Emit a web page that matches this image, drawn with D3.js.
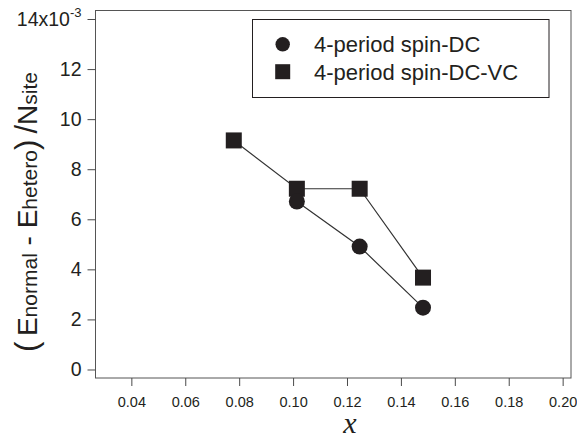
<!DOCTYPE html>
<html>
<head>
<meta charset="utf-8">
<script src="https://cdn.jsdelivr.net/npm/d3@7"></script>
<style>
  html, body { margin: 0; padding: 0; background: #fff; }
  svg { display: block; }
  text { font-family: "Liberation Sans", Arial, sans-serif; fill: #231f20; }
</style>
</head>
<body>
<svg id="chart" width="577" height="438"></svg>
<script>
// Energy difference per site (units of 1e-3) versus doping x
const dcX = [0.1014, 0.1247, 0.1482];
const dcY = [6.71, 4.91, 2.47];
const dcvcX = [0.078, 0.1014, 0.1247, 0.1482];
const dcvcY = [9.15, 7.22, 7.22, 3.67];
const seriesNames = ["4-period spin-DC", "4-period spin-DC-VC"];
const xTicks = [0.04, 0.06, 0.08, 0.10, 0.12, 0.14, 0.16, 0.18, 0.20];
const yTicks = [0, 2, 4, 6, 8, 10, 12, 14];

const svg = d3.select("#chart");
const plotL = 95.5, plotR = 571, plotT = 10, plotB = 378;

const x = d3.scaleLinear().domain([0.0267, 0.2031]).range([plotL, plotR]);
const y = d3.scaleLinear().domain([-0.34, 14.36]).range([plotB, plotT]);

const ink = "#231f20";

// frame
svg.append("rect")
  .attr("x", plotL).attr("y", plotT + 0.5)
  .attr("width", plotR - plotL).attr("height", plotB - plotT - 0.5)
  .attr("fill", "none").attr("stroke", "#555").attr("stroke-width", 1);

// x axis
const xAxis = svg.append("g")
  .attr("transform", `translate(0,${plotB})`)
  .call(d3.axisBottom(x).tickValues(xTicks).tickSize(8).tickPadding(11)
    .tickFormat(d3.format(".2f")));
xAxis.select(".domain").remove();
xAxis.selectAll("line").attr("stroke", "#4a4a4a");
xAxis.selectAll("text").attr("font-size", 14.5).attr("fill", ink)
  .style("font-family", "Liberation Sans, Arial, sans-serif");

// y axis
const yAxis = svg.append("g")
  .attr("transform", `translate(${plotL},0)`)
  .call(d3.axisLeft(y).tickValues(yTicks).tickSize(8).tickPadding(6)
    .tickFormat(d3.format("d")));
yAxis.select(".domain").remove();
yAxis.selectAll("line").attr("stroke", "#4a4a4a");
yAxis.selectAll("text").attr("font-size", 19.5).attr("fill", ink)
  .style("font-family", "Liberation Sans, Arial, sans-serif");
// top tick carries the 10^-3 multiplier
yAxis.selectAll(".tick").filter(d => d === 14).select("text")
  .text(null)
  .call(t => {
    t.append("tspan").text("14x10");
    t.append("tspan").attr("font-size", 13).attr("dy", "-0.65em").text("-3");
  });

// connecting lines
const line = d3.line().x(d => x(d[0])).y(d => y(d[1]));
const dcPts = dcX.map((v, i) => [v, dcY[i]]);
const dcvcPts = dcvcX.map((v, i) => [v, dcvcY[i]]);

svg.append("path").datum(dcvcPts).attr("d", line)
  .attr("fill", "none").attr("stroke", "#333").attr("stroke-width", 1.2);
svg.append("path").datum(dcPts).attr("d", line)
  .attr("fill", "none").attr("stroke", "#333").attr("stroke-width", 1.2);

// markers
const sq = 16;
svg.append("g").selectAll("rect").data(dcvcPts).join("rect")
  .attr("x", d => x(d[0]) - sq / 2).attr("y", d => y(d[1]) - sq / 2)
  .attr("width", sq).attr("height", sq).attr("fill", ink);
svg.append("g").selectAll("circle").data(dcPts).join("circle")
  .attr("cx", d => x(d[0])).attr("cy", d => y(d[1])).attr("r", 8)
  .attr("fill", ink);

// legend
const lg = svg.append("g");
lg.append("rect").attr("x", 252.5).attr("y", 19.5).attr("width", 296.5).attr("height", 78)
  .attr("fill", "#fff").attr("stroke", ink).attr("stroke-width", 1);
lg.append("circle").attr("cx", 282.7).attr("cy", 44.3).attr("r", 7.2).attr("fill", ink);
lg.append("rect").attr("x", 282.7 - 7.5).attr("y", 71.7 - 7.5).attr("width", 15).attr("height", 15).attr("fill", ink);
lg.selectAll("text.lab").data(seriesNames).join("text").attr("class", "lab")
  .attr("x", 314).attr("y", (d, i) => 52 + i * 27.5)
  .attr("font-size", 22).text(d => d);

// x axis title
svg.append("text").attr("x", 350).attr("y", 433).attr("text-anchor", "middle")
  .style("font-family", "Liberation Serif, Times New Roman, serif")
  .style("font-style", "italic").attr("font-size", 30).text("x");

// y axis title: (E_normal - E_hetero)/N_site
const yt = svg.append("text")
  .attr("transform", "translate(37,212) rotate(-90)")
  .attr("text-anchor", "middle");
const parts = [
  ["(", 31], ["\u2009E", 28], ["normal", 21], [" - ", 28], ["E", 28], ["hetero", 21],
  [")\u2009", 31], ["/", 31], ["N", 28], ["site", 21]
];
parts.forEach(([s, fs]) => yt.append("tspan").attr("font-size", fs).text(s));
</script>
</body>
</html>
